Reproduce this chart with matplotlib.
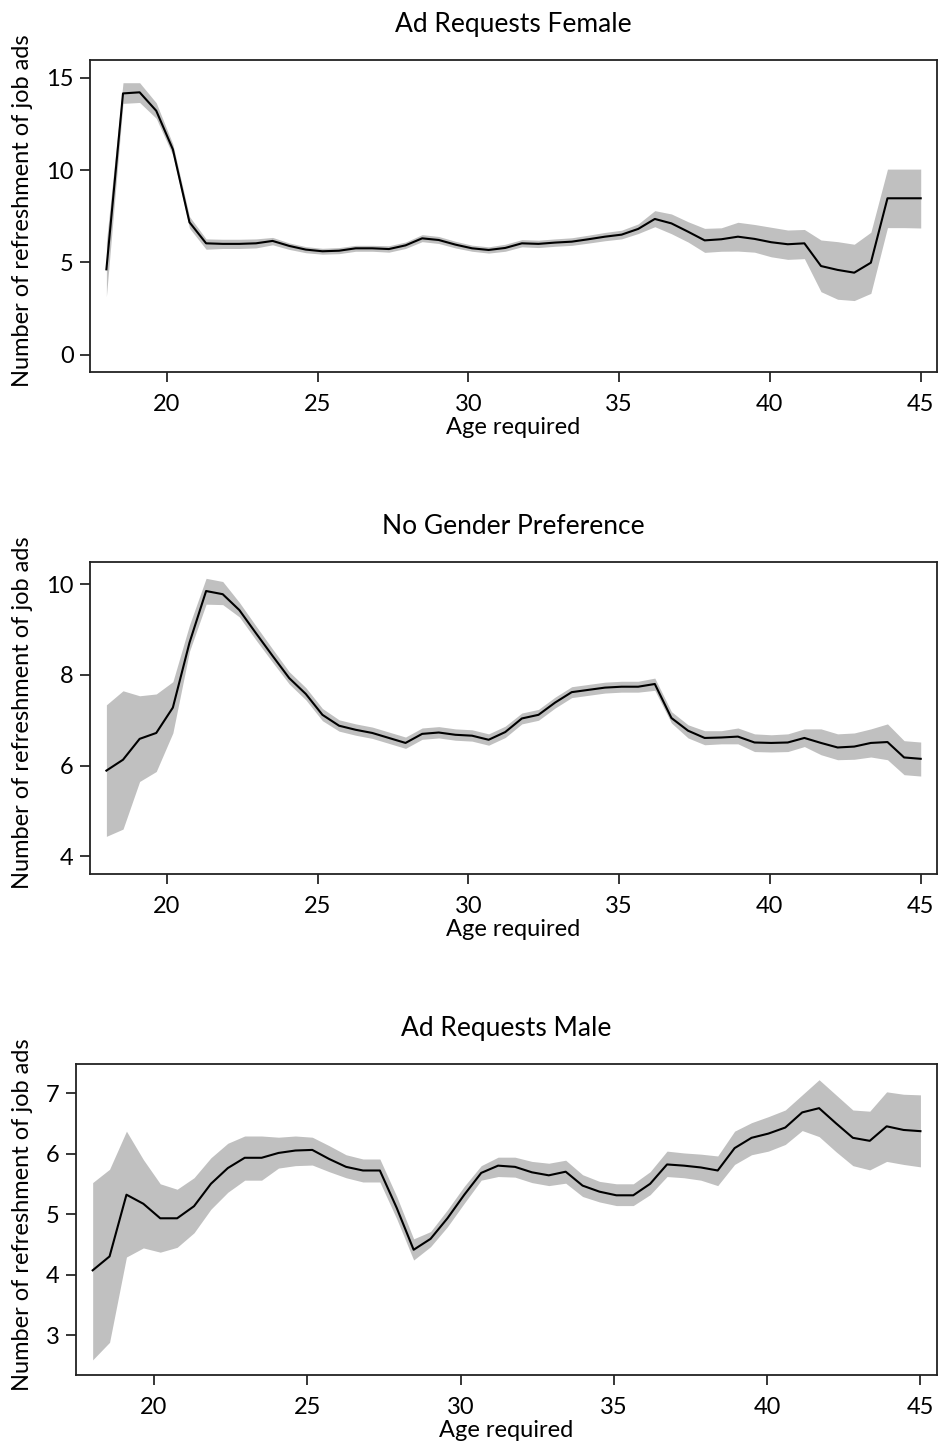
"""Refreshment of job ads by required age, three gender-preference panels."""

import numpy as np
import matplotlib

matplotlib.use("Agg")

import matplotlib.pyplot as plt

plt.rcParams["font.family"] = ["Lato", "DejaVu Sans"]

W, H = 940, 1450

# evaluation grid of required age (50 points, 18..45)
AGE = np.linspace(18, 45, 50)

FEMALE_MEAN = [
    4.62, 14.15, 14.21, 13.21, 11.12, 7.17, 6.03, 6.00, 6.00, 6.03,
    6.16, 5.89, 5.69, 5.60, 5.63, 5.76, 5.76, 5.72, 5.92, 6.30,
    6.21, 5.96, 5.76, 5.67, 5.78, 6.03, 6.00, 6.07, 6.12, 6.25,
    6.39, 6.50, 6.81, 7.35, 7.11, 6.66, 6.19, 6.25, 6.39, 6.27,
    6.09, 5.98, 6.03, 4.80, 4.59, 4.44, 4.98, 8.47, 8.47, 8.47,
]
FEMALE_HI = [
    6.10, 14.73, 14.73, 13.64, 11.40, 7.48, 6.27, 6.25, 6.25, 6.27,
    6.35, 6.05, 5.85, 5.76, 5.80, 5.92, 5.92, 5.90, 6.10, 6.50,
    6.40, 6.14, 5.93, 5.84, 5.98, 6.23, 6.20, 6.27, 6.33, 6.47,
    6.62, 6.74, 7.08, 7.80, 7.62, 7.20, 6.84, 6.87, 7.17, 7.05,
    6.90, 6.75, 6.78, 6.21, 6.12, 5.98, 6.63, 10.05, 10.05, 10.05,
]
FEMALE_LO = [
    3.14, 13.61, 13.66, 12.80, 10.80, 6.85, 5.71, 5.75, 5.75, 5.78,
    5.95, 5.70, 5.52, 5.44, 5.47, 5.60, 5.60, 5.55, 5.75, 6.12,
    6.02, 5.78, 5.60, 5.50, 5.60, 5.84, 5.80, 5.87, 5.92, 6.04,
    6.17, 6.27, 6.56, 6.93, 6.55, 6.10, 5.54, 5.60, 5.61, 5.55,
    5.30, 5.16, 5.20, 3.41, 3.00, 2.93, 3.32, 6.88, 6.88, 6.86,
]

NOPREF_MEAN = [
    5.89, 6.13, 6.59, 6.72, 7.28, 8.71, 9.85, 9.78, 9.43, 8.92,
    8.42, 7.93, 7.58, 7.12, 6.88, 6.79, 6.72, 6.61, 6.50, 6.70,
    6.73, 6.68, 6.66, 6.57, 6.74, 7.04, 7.12, 7.39, 7.62, 7.67,
    7.72, 7.74, 7.74, 7.80, 7.05, 6.77, 6.61, 6.62, 6.64, 6.51,
    6.50, 6.51, 6.61, 6.50, 6.40, 6.42, 6.50, 6.52, 6.18, 6.15,
]
NOPREF_HI = [
    7.34, 7.65, 7.54, 7.58, 7.85, 9.10, 10.13, 10.06, 9.60, 9.08,
    8.57, 8.07, 7.72, 7.26, 7.01, 6.92, 6.85, 6.74, 6.63, 6.83,
    6.86, 6.81, 6.79, 6.70, 6.87, 7.16, 7.24, 7.51, 7.74, 7.79,
    7.84, 7.86, 7.86, 7.93, 7.19, 6.90, 6.77, 6.77, 6.83, 6.70,
    6.68, 6.70, 6.81, 6.81, 6.70, 6.72, 6.81, 6.92, 6.55, 6.52,
]
NOPREF_LO = [
    4.44, 4.60, 5.65, 5.87, 6.72, 8.52, 9.56, 9.55, 9.28, 8.77,
    8.28, 7.80, 7.45, 6.99, 6.76, 6.67, 6.60, 6.49, 6.38, 6.58,
    6.61, 6.56, 6.54, 6.45, 6.62, 6.92, 7.00, 7.27, 7.50, 7.55,
    7.60, 7.62, 7.62, 7.66, 6.94, 6.61, 6.46, 6.48, 6.48, 6.31,
    6.30, 6.31, 6.42, 6.24, 6.13, 6.14, 6.19, 6.13, 5.80, 5.77,
]

MALE_MEAN = [
    4.07, 4.30, 5.32, 5.17, 4.93, 4.93, 5.13, 5.50, 5.76, 5.93,
    5.93, 6.01, 6.05, 6.06, 5.91, 5.78, 5.72, 5.72, 5.10, 4.41,
    4.59, 4.93, 5.32, 5.68, 5.80, 5.78, 5.69, 5.64, 5.70, 5.47,
    5.37, 5.31, 5.31, 5.50, 5.82, 5.80, 5.77, 5.72, 6.09, 6.26,
    6.33, 6.43, 6.68, 6.75, 6.50, 6.26, 6.21, 6.45, 6.39, 6.37,
]
MALE_HI = [
    5.52, 5.74, 6.37, 5.90, 5.50, 5.41, 5.60, 5.93, 6.17, 6.29,
    6.29, 6.27, 6.29, 6.27, 6.13, 5.98, 5.91, 5.91, 5.29, 4.59,
    4.71, 5.07, 5.46, 5.80, 5.94, 5.94, 5.87, 5.84, 5.89, 5.65,
    5.54, 5.50, 5.50, 5.70, 6.04, 6.01, 5.99, 5.96, 6.37, 6.51,
    6.61, 6.72, 6.97, 7.22, 6.97, 6.72, 6.70, 7.02, 6.98, 6.97,
]
MALE_LO = [
    2.59, 2.88, 4.29, 4.44, 4.37, 4.45, 4.69, 5.08, 5.36, 5.56,
    5.56, 5.76, 5.80, 5.81, 5.70, 5.60, 5.53, 5.53, 4.92, 4.24,
    4.46, 4.79, 5.18, 5.56, 5.62, 5.61, 5.52, 5.47, 5.51, 5.29,
    5.20, 5.14, 5.14, 5.32, 5.62, 5.60, 5.56, 5.47, 5.82, 5.98,
    6.04, 6.15, 6.38, 6.28, 6.03, 5.80, 5.73, 5.87, 5.82, 5.78,
]

PANELS = [
    ("Ad Requests Female", FEMALE_MEAN, FEMALE_LO, FEMALE_HI, [0, 5, 10, 15], (-0.94, 15.96)),
    ("No Gender Preference", NOPREF_MEAN, NOPREF_LO, NOPREF_HI, [4, 6, 8, 10], (3.61, 10.49)),
    ("Ad Requests Male", MALE_MEAN, MALE_LO, MALE_HI, [3, 4, 5, 6, 7], (2.34, 7.48)),
]
# axes boxes in pixels: left, right, top, bottom
BOXES = [(89.5, 937, 60, 372), (89.5, 937, 562, 874), (75.5, 937, 1064, 1375)]
XTICKS = [20, 25, 30, 35, 40, 45]


def draw_panel(ax, title, mean, lo, hi, yticks, ylim, left_px):
    ax.fill_between(AGE, lo, hi, color="#C0C0C0", linewidth=0, zorder=1)
    ax.plot(AGE, mean, color="black", linewidth=1.5, zorder=2)
    ax.set_xlim(17.44, 45.54)
    ax.set_ylim(*ylim)
    ax.set_xticks(XTICKS)
    ax.set_yticks(yticks)
    ax.tick_params(axis="both", direction="out", length=7.5, width=1.1,
                   labelsize=17, colors="black")
    ax.tick_params(axis="x", pad=8.5)
    ax.tick_params(axis="y", pad=4)
    for sp in ax.spines.values():
        sp.set_linewidth(1.3)
        sp.set_color("#222222")
    ax.set_title(title, fontsize=19, pad=20)
    ax.set_xlabel("Age required", fontsize=17, labelpad=1)
    ax.set_ylabel("Number of refreshment of job ads", fontsize=17)
    width_px = BOXES[0][1] - left_px
    ax.yaxis.set_label_coords((33 - left_px) / width_px, 0.516)


def main():
    fig = plt.figure(figsize=(W / 100, H / 100), dpi=100)
    for (title, mean, lo, hi, yticks, ylim), (l, r, t, b) in zip(PANELS, BOXES):
        ax = fig.add_axes([l / W, 1 - b / H, (r - l) / W, (b - t) / H])
        draw_panel(ax, title, mean, lo, hi, yticks, ylim, l)
    fig.savefig("out.png", dpi=100, facecolor="white")
    plt.close(fig)


if __name__ == "__main__":
    main()
